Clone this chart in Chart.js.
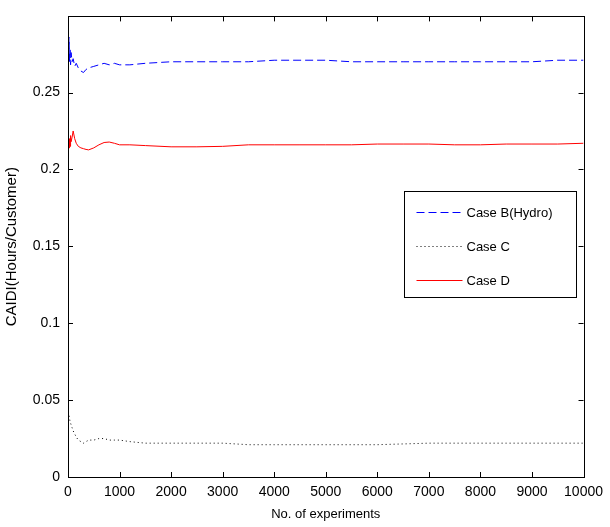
<!DOCTYPE html>
<html>
<head>
<meta charset="utf-8">
<script src="https://cdn.jsdelivr.net/npm/chart.js@4.4.0/dist/chart.umd.min.js"></script>
<style>
  html, body { margin: 0; padding: 0; background: #fff; }
  #wrap { width: 610px; height: 527px; }
</style>
</head>
<body>
<div id="wrap"><canvas id="chart" width="610" height="527"></canvas></div>
<script>
// number of experiments (x) and the running CAIDI estimate for each case
const experiments = [1, 10, 20, 30, 40, 50, 60, 80, 100, 130, 160, 200, 250, 300, 350, 400, 500, 600, 700, 800, 900, 1000,
  1200, 1500, 2000, 2500, 3000, 3500, 4000, 4500, 5000, 5500, 6000, 6500, 7000, 7500, 8000, 8500, 9000, 9500, 10000];
const caseB = [0.294, 0.272, 0.286, 0.270, 0.279, 0.268, 0.276, 0.270, 0.272, 0.267, 0.269, 0.266, 0.264, 0.263, 0.265,
  0.266, 0.267, 0.268, 0.269, 0.268, 0.269, 0.268, 0.268, 0.269, 0.270, 0.270, 0.270, 0.270, 0.271, 0.271, 0.271,
  0.270, 0.270, 0.270, 0.270, 0.270, 0.270, 0.270, 0.270, 0.271, 0.271];
const caseC = [0.045, 0.042, 0.040, 0.038, 0.036, 0.035, 0.034, 0.032, 0.030, 0.028, 0.026, 0.024, 0.023, 0.022, 0.023,
  0.024, 0.024, 0.025, 0.025, 0.024, 0.024, 0.024, 0.023, 0.022, 0.022, 0.022, 0.022, 0.021, 0.021, 0.021, 0.021,
  0.021, 0.021, 0.0215, 0.022, 0.022, 0.022, 0.022, 0.022, 0.022, 0.022];
const caseD = [0.212, 0.219, 0.214, 0.220, 0.215, 0.222, 0.218, 0.221, 0.225, 0.220, 0.217, 0.215, 0.214, 0.2135, 0.213,
  0.2127, 0.214, 0.216, 0.2175, 0.2178, 0.217, 0.216, 0.216, 0.2155, 0.2147, 0.2147, 0.215, 0.216, 0.216, 0.216, 0.216,
  0.216, 0.2165, 0.2165, 0.2165, 0.216, 0.216, 0.2165, 0.2165, 0.2165, 0.217];
const seriesNames = ['Case B(Hydro)', 'Case C', 'Case D'];
const xTicks = [0, 1000, 2000, 3000, 4000, 5000, 6000, 7000, 8000, 9000, 10000];
const yTicks = [0, 0.05, 0.1, 0.15, 0.2, 0.25];

const FONT = '"Liberation Sans", Arial, sans-serif';

const toPoints = (ys) => ys.map((y, i) => ({ x: experiments[i], y: y }));

// matlab style box with inward ticks on all sides + legend box inside the axes
const matlabBox = {
  id: 'matlabBox',
  afterDatasetsDraw(chart) {
    const { ctx, chartArea: a, scales } = chart;
    ctx.save();
    ctx.strokeStyle = '#000';
    ctx.lineWidth = 1;
    ctx.beginPath();
    xTicks.forEach(v => {
      const px = Math.round(scales.x.getPixelForValue(v)) + 0.5;
      ctx.moveTo(px, a.bottom); ctx.lineTo(px, a.bottom - 5);
      ctx.moveTo(px, a.top); ctx.lineTo(px, a.top + 5);
    });
    yTicks.forEach(v => {
      const py = Math.round(scales.y.getPixelForValue(v)) + 0.5;
      ctx.moveTo(a.left, py); ctx.lineTo(a.left + 5, py);
      ctx.moveTo(a.right, py); ctx.lineTo(a.right - 5, py);
    });
    ctx.stroke();
    ctx.strokeRect(Math.round(a.left) + 0.5, Math.round(a.top) + 0.5,
      Math.round(a.right - a.left), Math.round(a.bottom - a.top));

    // legend
    const lx = 404.5, ly = 191.5, lw = 172, lh = 106;
    ctx.fillStyle = '#fff';
    ctx.fillRect(lx, ly, lw, lh);
    ctx.strokeRect(lx, ly, lw, lh);
    ctx.font = '13px ' + FONT;
    ctx.textBaseline = 'middle';
    chart.data.datasets.forEach((ds, i) => {
      const yy = Math.round(ly + 20 + i * 34) + 0.5;
      ctx.strokeStyle = ds.borderColor;
      ctx.lineWidth = 1;
      ctx.setLineDash(ds.borderDash || []);
      ctx.beginPath();
      ctx.moveTo(lx + 12, yy); ctx.lineTo(lx + 58, yy);
      ctx.stroke();
      ctx.setLineDash([]);
      ctx.fillStyle = '#000';
      ctx.fillText(ds.label, lx + 62, yy + 1);
    });
    ctx.restore();
  }
};

new Chart(document.getElementById('chart'), {
  type: 'line',
  data: {
    datasets: [
      { label: seriesNames[0], data: toPoints(caseB), borderColor: 'rgb(0,0,255)', borderWidth: 1, borderDash: [8, 4] },
      { label: seriesNames[1], data: toPoints(caseC), borderColor: 'rgb(0,0,0)', borderWidth: 1, borderDash: [1, 3] },
      { label: seriesNames[2], data: toPoints(caseD), borderColor: 'rgb(255,0,0)', borderWidth: 1 }
    ]
  },
  options: {
    responsive: false,
    animation: false,
    elements: { point: { radius: 0 }, line: { tension: 0 } },
    layout: { padding: { left: 0, top: 11, right: 21, bottom: 0 } },
    plugins: { legend: { display: false }, tooltip: { enabled: false } },
    scales: {
      x: {
        type: 'linear',
        min: 0, max: 10000,
        afterBuildTicks: (s) => { s.ticks = xTicks.map(v => ({ value: v })); },
        afterFit: (s) => { s.height = 50; },
        grid: { display: false, drawTicks: false },
        border: { display: false },
        ticks: { color: '#000', font: { family: FONT, size: 14 }, padding: 7, maxRotation: 0, callback: (v) => String(v) },
        title: { display: true, text: 'No. of experiments', color: '#000', font: { family: FONT, size: 13 }, padding: { top: 0, bottom: 5 } }
      },
      y: {
        min: 0, max: 0.2995,
        afterBuildTicks: (s) => { s.ticks = yTicks.map(v => ({ value: v })); },
        afterFit: (s) => { s.width = 68; },
        grid: { display: false, drawTicks: false },
        border: { display: false },
        ticks: { color: '#000', font: { family: FONT, size: 14 }, padding: 8, callback: (v) => String(v) },
        title: { display: true, text: 'CAIDI(Hours/Customer)', color: '#000', font: { family: FONT, size: 15 }, padding: { top: 3, bottom: 0 } }
      }
    }
  },
  plugins: [matlabBox]
});
</script>
</body>
</html>
